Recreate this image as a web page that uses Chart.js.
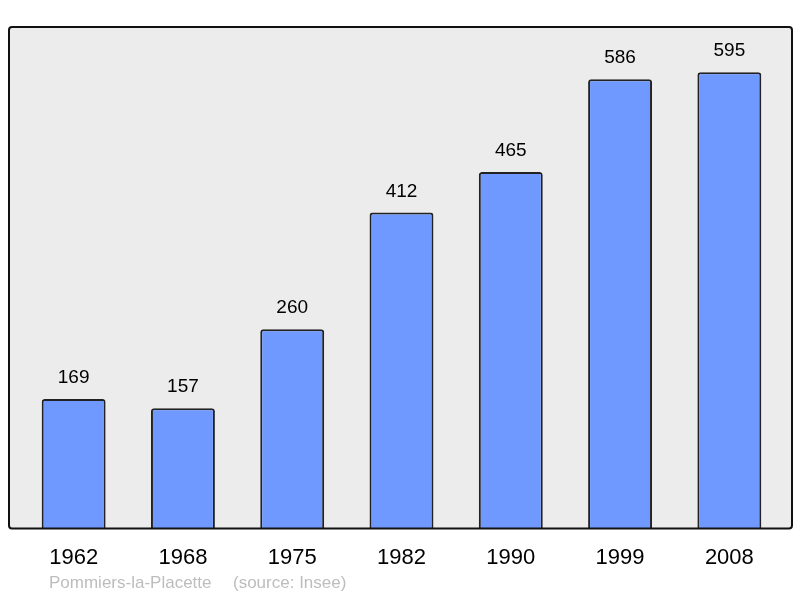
<!DOCTYPE html>
<html><head><meta charset="utf-8">
<script src="https://cdn.jsdelivr.net/npm/chart.js@4"></script>
<style>html,body{margin:0;padding:0;background:#fff}#c{display:block}</style>
</head><body>
<canvas id="c" width="800" height="598"></canvas>
<script>
const years = ['1962','1968','1975','1982','1990','1999','2008'];
const population = [169,157,260,412,465,586,595];
const townName = 'Pommiers-la-Placette';
const sourceText = '(source: Insee)';

const FONT = "'Liberation Sans', Arial, sans-serif";

const panel = {
  id: 'panel',
  beforeDatasetsDraw(chart) {
    const {ctx, chartArea} = chart;
    const x0 = 9, x1 = 792, y0 = chartArea.top, y1 = chartArea.bottom;
    ctx.save();
    ctx.beginPath();
    ctx.roundRect(x0, y0, x1 - x0, y1 - y0, 3);
    ctx.fillStyle = '#ececec';
    ctx.fill();
    ctx.restore();
  },
  afterDatasetsDraw(chart) {
    const {ctx, chartArea} = chart;
    const x0 = 9, x1 = 792, y0 = chartArea.top, y1 = chartArea.bottom;
    ctx.save();
    ctx.beginPath();
    ctx.roundRect(x0, y0, x1 - x0, y1 - y0, 3);
    ctx.lineWidth = 2;
    ctx.strokeStyle = '#111';
    ctx.stroke();
    // value labels
    const meta = chart.getDatasetMeta(0);
    ctx.fillStyle = '#000';
    ctx.font = '19px ' + FONT;
    ctx.textAlign = 'center';
    ctx.textBaseline = 'middle';
    meta.data.forEach((bar, i) => {
      ctx.fillText(String(population[i]), bar.x, bar.y - 21);
    });
    // footer
    ctx.fillStyle = '#bdbdbd';
    ctx.font = '17px ' + FONT;
    ctx.textAlign = 'left';
    ctx.fillText(townName, 49, 583);
    ctx.fillText(sourceText, 233, 583);
    ctx.restore();
  }
};

new Chart(document.getElementById('c'), {
  type: 'bar',
  data: {
    labels: years,
    datasets: [{
      data: population,
      backgroundColor: '#7099ff',
      borderColor: '#222',
      borderWidth: 2,
      borderSkipped: 'bottom',
      borderRadius: {topLeft: 3, topRight: 3, bottomLeft: 0, bottomRight: 0},
      categoryPercentage: 1,
      barPercentage: 0.585
    }]
  },
  options: {
    responsive: false,
    animation: false,
    layout: {padding: {left: 19, right: 16, top: 27, bottom: 11}},
    plugins: {legend: {display: false}, tooltip: {enabled: false}},
    scales: {
      y: {display: false, min: 0, max: 654},
      x: {
        grid: {display: false, drawTicks: false},
        border: {display: false},
        ticks: {color: '#000', font: {size: 22, family: FONT}, padding: 16}
      }
    }
  },
  plugins: [panel]
});
</script>
</body></html>
